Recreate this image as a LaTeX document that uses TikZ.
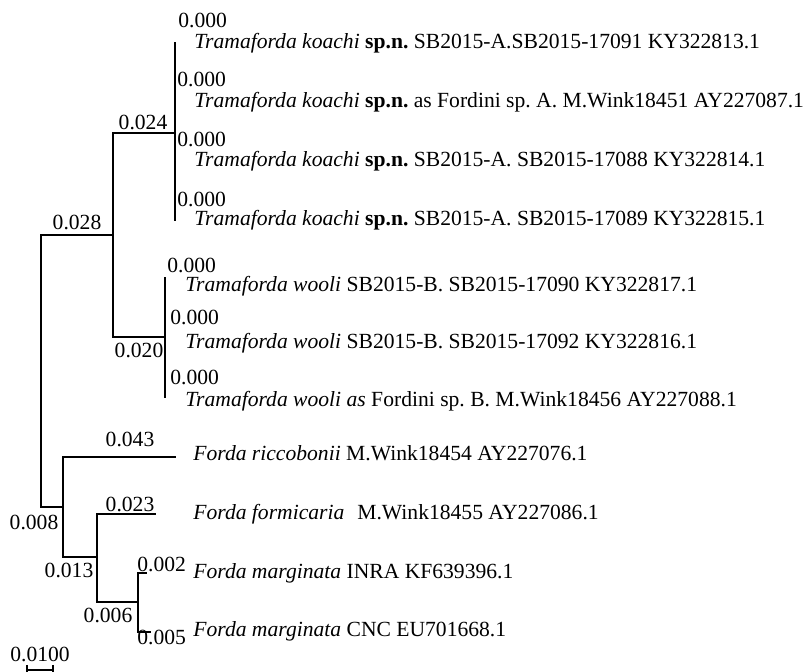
\documentclass[tikz,border=0pt]{standalone}
\usepackage{fontspec}
\setmainfont{Liberation Serif}
\frenchspacing
\begin{document}
\begin{tikzpicture}[x=0.5pt,y=-0.5pt,
  branch/.style={line width=1pt,line cap=rect},
  lbl/.style={inner sep=0pt,font=\fontsize{10.8}{12}\selectfont\frenchspacing},
  lw/.style={lbl,anchor=base west},
  lc/.style={lbl,anchor=base}]
\useasboundingbox (0,0) rectangle (809,672);
% tree vertices
\coordinate (r1) at (41,235);
\coordinate (r2) at (41,507);
\coordinate (nA) at (113,235);
\coordinate (nA1) at (113,133);
\coordinate (nA2) at (113,337);
\coordinate (kN) at (175,133);
\coordinate (kT) at (175,43);
\coordinate (kB) at (175,220);
\coordinate (wN) at (165,337);
\coordinate (wT) at (165,278);
\coordinate (wB) at (165,397);
\coordinate (fN) at (63,507);
\coordinate (fT) at (63,457);
\coordinate (fB) at (63,557);
\coordinate (ric) at (175,457);
\coordinate (gN) at (97,557);
\coordinate (gT) at (97,514);
\coordinate (gB) at (97,602);
\coordinate (form) at (155,514);
\coordinate (mN) at (138,602);
\coordinate (mT) at (138,573);
\coordinate (mB) at (138,632);
\coordinate (inra) at (146,573);
\coordinate (cnc) at (150,632);
\coordinate (s1) at (27,670);
\coordinate (s2) at (53,670);
\coordinate (s1t) at (27,665);
\coordinate (s2t) at (53,665);
\coordinate (s1b) at (27,676);
\coordinate (s2b) at (53,676);
% branches
\draw[branch] (r1) -- (r2);
\draw[branch] (r1) -- (nA);
\draw[branch] (nA1) -- (nA2);
\draw[branch] (nA1) -- (kN);
\draw[branch] (kT) -- (kB);
\draw[branch] (nA2) -- (wN);
\draw[branch] (wT) -- (wB);
\draw[branch] (r2) -- (fN);
\draw[branch] (fT) -- (fB);
\draw[branch] (fT) -- (ric);
\draw[branch] (fB) -- (gN);
\draw[branch] (gT) -- (gB);
\draw[branch] (gT) -- (form);
\draw[branch] (gB) -- (mN);
\draw[branch] (mT) -- (mB);
\draw[branch] (mT) -- (inra);
\draw[branch] (mB) -- (cnc);
% scale bar
\draw[branch,line cap=butt] (s1) -- (s2);
\draw[branch,line cap=butt] (s1t) -- (s1b);
\draw[branch,line cap=butt] (s2t) -- (s2b);
\node[lc] (sc) at (40,662) {0.0100};
% branch length labels
\node[lc] (b024) at (143,130) {0.024};
\node[lc] (b028) at (77,230) {0.028};
\node[lc] (b020) at (139,358) {0.020};
\node[lc] (b043) at (130,447) {0.043};
\node[lc] (b008) at (34,530) {0.008};
\node[lc] (b023) at (130,512) {0.023};
\node[lc] (b013) at (69,578) {0.013};
\node[lw] (b002) at (137,572) {0.002};
\node[lc] (b006) at (108,623) {0.006};
\node[lw] (b005) at (137,645) {0.005};
\node[lw] (k1z) at (178,28) {0.000};
\node[lw] (k2z) at (177,87) {0.000};
\node[lw] (k3z) at (177,147) {0.000};
\node[lw] (k4z) at (177,207) {0.000};
\node[lw] (w1z) at (167,273) {0.000};
\node[lw] (w2z) at (170,325) {0.000};
\node[lw] (w3z) at (170,385) {0.000};
% taxa
\node[lw] (k1) at (194,49) {\textit{Tramaforda koachi} \textbf{sp.n.} SB2015-A.SB2015-17091 KY322813.1};
\node[lw] (k2) at (194,108) {\textit{Tramaforda koachi} \textbf{sp.n.} as Fordini sp. A. M.Wink18451 AY227087.1};
\node[lw] (k3) at (194,167) {\textit{Tramaforda koachi} \textbf{sp.n.} SB2015-A. SB2015-17088 KY322814.1};
\node[lw] (k4) at (194,226) {\textit{Tramaforda koachi} \textbf{sp.n.} SB2015-A. SB2015-17089 KY322815.1};
\node[lw] (w1) at (185,292) {\textit{Tramaforda wooli} SB2015-B. SB2015-17090 KY322817.1};
\node[lw] (w2) at (185,349) {\textit{Tramaforda wooli} SB2015-B. SB2015-17092 KY322816.1};
\node[lw] (w3) at (185,407) {\textit{Tramaforda wooli as} Fordini sp. B. M.Wink18456 AY227088.1};
\node[lw] (f1) at (193,461) {\textit{Forda riccobonii} M.Wink18454 AY227076.1};
\node[lw] (f2) at (193,520) {\textit{Forda formicaria}\hspace{0.6em}M.Wink18455 AY227086.1};
\node[lw] (f3) at (193,579) {\textit{Forda marginata} INRA KF639396.1};
\node[lw] (f4) at (193,637) {\textit{Forda marginata} CNC EU701668.1};
\end{tikzpicture}
\end{document}
